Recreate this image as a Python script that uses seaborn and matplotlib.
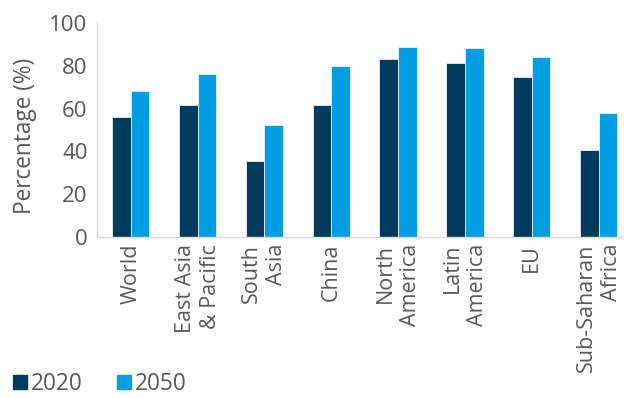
import matplotlib
matplotlib.use("Agg")
import matplotlib.pyplot as plt
from matplotlib.lines import Line2D
from matplotlib.ticker import FixedLocator
import seaborn as sns
import pandas as pd

regions = ["World", "East Asia\n& Pacific", "South\nAsia", "China", "North\nAmerica",
           "Latin\nAmerica", "EU", "Sub-Saharan\nAfrica"]
years = ["2020", "2050"]
values_2020 = [56, 61.5, 35.3, 61.5, 83.4, 81.2, 74.8, 40.8]
values_2050 = [68, 76.4, 52.2, 79.8, 89.0, 88.3, 84.1, 57.8]

colors = ["#003A5D", "#009FE3"]
text_color = "#595959"

df = pd.DataFrame({
    "region": regions * 2,
    "year": ["2020"] * len(regions) + ["2050"] * len(regions),
    "value": values_2020 + values_2050,
})

sns.set_style("white")
plt.rcParams["font.family"] = ["Open Sans", "DejaVu Sans"]

fig = plt.figure(figsize=(6.24, 3.98), dpi=100)
ax = fig.add_axes([0.156, 0.405, 0.844, 0.537])

sns.barplot(data=df, x="region", y="value", hue="year", palette=colors, saturation=1,
            width=0.56, gap=0, edgecolor="#e8f2f8", linewidth=0.6, ax=ax, legend=False)

ax.set_ylim(0, 100)
ax.set_xlim(-0.5, 7.38)
ax.set_yticks([0, 20, 40, 60, 80, 100])
ax.tick_params(axis="y", labelsize=16, labelcolor=text_color, length=0, pad=7)
ax.set_ylabel("Percentage (%)", fontsize=16.3, color=text_color)
ax.yaxis.set_label_coords(-0.115, 0.47)
ax.set_xlabel("")

ax.set_xticks(range(len(regions)))
ax.set_xticklabels(regions, rotation=90, ha="center", va="top",
                   multialignment="right", fontsize=15.5, color=text_color, linespacing=1.25)
ax.tick_params(axis="x", which="major", length=0, pad=5)
ax.xaxis.set_minor_locator(FixedLocator([i - 0.5 for i in range(len(regions) + 1)]))
ax.tick_params(axis="x", which="minor", length=5, color="#d9d9d9", width=1)

for side in ["top", "right"]:
    ax.spines[side].set_visible(False)
for side in ["left", "bottom"]:
    ax.spines[side].set_color("#d9d9d9")
    ax.spines[side].set_linewidth(1)

handles = [Line2D([0], [0], marker="s", linestyle="", markersize=10,
                  markerfacecolor=c, markeredgecolor=c) for c in colors]
fig.legend(handles, years, loc="center left", bbox_to_anchor=(0.021, 0.036), ncol=2,
           frameon=False, fontsize=16.3, labelcolor=text_color, handletextpad=0.2,
           columnspacing=1.5, handlelength=0.6, borderpad=0, borderaxespad=0)

fig.savefig("out.png", dpi=100)
